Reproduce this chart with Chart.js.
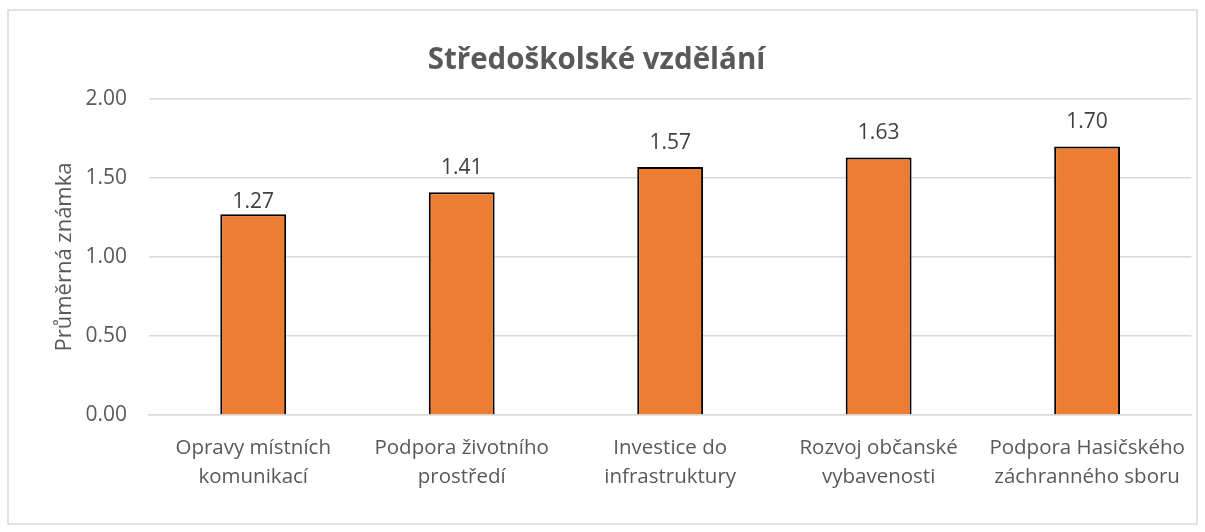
<!DOCTYPE html>
<html>
<head>
<meta charset="utf-8">
<script src="https://cdn.jsdelivr.net/npm/chart.js@4.4.1/dist/chart.umd.min.js"></script>
<style>
  body { margin: 0; background: #ffffff; }
  #chart { display: block; width: 1205px; height: 532px; }
</style>
</head>
<body>
<canvas id="chart" width="1205" height="532"></canvas>
<script>
var categories = [
  ["Opravy místních", "komunikací"],
  ["Podpora životního", "prostředí"],
  ["Investice do", "infrastruktury"],
  ["Rozvoj občanské", "vybavenosti"],
  ["Podpora Hasičského", "záchranného sboru"]
];
var values = [1.27, 1.41, 1.57, 1.63, 1.70];
var orange = "#ed7d31";
var gridColor = "#d9d9d9";
var textColor = "#595959";
var font = "'Open Sans', sans-serif";

// Ramecek kolem grafu
const framePlugin = {
  id: "frame",
  beforeDraw(chart) {
    let ctx = chart.ctx;
    ctx.save();
    ctx.fillStyle = "#ffffff";
    ctx.fillRect(0, 0, chart.width, chart.height);
    ctx.strokeStyle = gridColor;
    ctx.lineWidth = 1.5;
    ctx.strokeRect(8, 10, 1189, 514);
    ctx.restore();
  }
};

// Popisky hodnot nad sloupci
const labelPlugin = {
  id: "valueLabels",
  afterDatasetsDraw(chart, args, opts) {
    let ctx = chart.ctx;
    let meta = chart.getDatasetMeta(0);
    ctx.save();
    ctx.fillStyle = "#404040";
    ctx.font = "21px " + font;
    ctx.textAlign = "center";
    ctx.textBaseline = "alphabetic";
    meta.data.forEach((bar, i) => {
      let gap = opts.gaps[i] || 18;
      ctx.fillText(values[i].toFixed(2), bar.x, bar.y - gap);
    });
    ctx.restore();
  }
};

const ctx = document.getElementById("chart");
var chart = new Chart(ctx, {
  type: "bar",
  data: {
    labels: categories,
    datasets: [
      {
        data: values,
        backgroundColor: orange,
        borderColor: "#000000",
        borderWidth: 2,
        categoryPercentage: 1,
        barPercentage: 0.316,
      },
    ],
  },
  options: {
    responsive: false,
    animation: false,
    devicePixelRatio: 1,
    layout: {
      padding: { left: 0, right: 12, top: 0, bottom: 0 },
    },
    plugins: {
      legend: { display: false },
      tooltip: { enabled: false },
      valueLabels: { gaps: [6, 18, 18, 18, 18] },
      title: {
        display: true,
        text: "Středoškolské vzdělání",
        color: textColor,
        font: { family: font, size: 29.5, weight: "bold", lineHeight: 1.2 },
        padding: { top: 43, bottom: 20.6 },
      },
    },
    scales: {
      x: {
        grid: { display: false, drawTicks: false },
        border: { display: true, color: gridColor, width: 1.5 },
        ticks: {
          color: textColor,
          font: { family: font, size: 20.5, lineHeight: 1.4 },
          padding: 19,
          maxRotation: 0,
          autoSkip: false,
        },
        afterFit(scale) {
          scale.height = 117;
        },
      },
      y: {
        min: 0,
        max: 2,
        grid: { color: gridColor, lineWidth: 1.5, drawTicks: false },
        border: { display: false },
        ticks: {
          stepSize: 0.5,
          color: textColor,
          font: { family: font, size: 21 },
          padding: 22,
          callback: (v) => v.toFixed(2),
        },
        title: {
          display: true,
          text: "Průměrná známka",
          color: textColor,
          font: { family: font, size: 22, lineHeight: 1.2 },
          padding: { top: 52, bottom: 0 },
        },
        afterFit(scale) {
          scale.width = 149;
        },
      },
    },
  },
  plugins: [framePlugin, labelPlugin],
});
</script>
</body>
</html>
